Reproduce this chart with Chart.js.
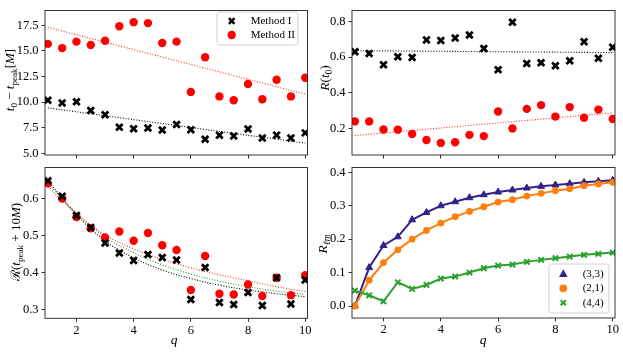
<!DOCTYPE html>
<html><head><meta charset="utf-8">
<script src="https://cdn.jsdelivr.net/npm/chart.js@4.4.1/dist/chart.umd.min.js"></script>
<style>
html,body{margin:0;padding:0;background:#fff;overflow:hidden;}
#wrap{position:relative;width:623px;height:352px;}
canvas{position:absolute;left:0;top:0;}
</style></head><body>
<div id="wrap">
<canvas id="c1" width="623" height="352"></canvas>
<canvas id="c2" width="623" height="352"></canvas>
<canvas id="c3" width="623" height="352"></canvas>
<canvas id="c4" width="623" height="352"></canvas>
</div>
<script>
// ---------------- data ----------------
const Q = [1, 1.5, 2, 2.5, 3, 3.5, 4, 4.5, 5, 5.5, 6, 6.5, 7, 7.5, 8, 8.5, 9, 9.5, 10];
const X_TICKS = [2, 4, 6, 8, 10];

// top-left: t0 - tpeak
const T0_METHOD_I  = [10.19, 9.91, 10.03, 9.19, 8.78, 7.56, 7.41, 7.47, 7.28, 7.81, 7.31, 6.38, 6.78, 6.69, 7.38, 6.50, 6.78, 6.50, 7.00];
const T0_METHOD_II = [15.69, 15.28, 15.91, 15.59, 16.00, 17.41, 17.81, 17.72, 15.78, 15.91, 11.00, 14.38, 10.56, 10.19, 11.78, 10.28, 12.19, 10.56, 12.38];
const FIT_Q = [1, 10];
const T0_FIT_I  = [9.44, 6.00];
const T0_FIT_II = [17.31, 10.78];
const T0_TICKS = [5.0, 7.5, 10.0, 12.5, 15.0, 17.5];

// top-right: R(t0)
const RT0_METHOD_I  = [0.630, 0.620, 0.557, 0.602, 0.598, 0.696, 0.693, 0.707, 0.723, 0.648, 0.529, 0.795, 0.564, 0.568, 0.552, 0.580, 0.686, 0.593, 0.655];
const RT0_METHOD_II = [0.241, 0.241, 0.196, 0.195, 0.171, 0.137, 0.121, 0.125, 0.166, 0.159, 0.296, 0.202, 0.311, 0.332, 0.268, 0.321, 0.262, 0.307, 0.255];
const RT0_FIT_I  = [0.636, 0.625];
const RT0_FIT_II = [0.162, 0.289];
const RT0_TICKS = [0.2, 0.4, 0.6, 0.8];

// bottom-left: R(tpeak + 10M)
const R10_METHOD_I  = [0.649, 0.607, 0.555, 0.523, 0.481, 0.454, 0.434, 0.450, 0.442, 0.435, 0.328, 0.415, 0.320, 0.315, 0.347, 0.312, 0.387, 0.316, 0.381];
const R10_METHOD_II = [0.642, 0.601, 0.551, 0.521, 0.496, 0.512, 0.487, 0.508, 0.475, 0.462, 0.354, 0.446, 0.344, 0.342, 0.369, 0.338, 0.387, 0.340, 0.394];
const FIT_Q_CURVE = [1, 2, 3, 4, 5, 6, 7, 8, 9, 10];
const R10_FIT_I   = [0.649, 0.558, 0.487, 0.441, 0.408, 0.385, 0.367, 0.354, 0.344, 0.336];
const R10_FIT_II  = [0.634, 0.560, 0.503, 0.465, 0.437, 0.414, 0.395, 0.379, 0.363, 0.350];
const R10_FIT_ALL = [0.643, 0.562, 0.497, 0.455, 0.422, 0.397, 0.378, 0.363, 0.351, 0.342];
const R10_TICKS = [0.3, 0.4, 0.5, 0.6];

// bottom-right: R_lm
const RLM_33 = [0.000, 0.115, 0.181, 0.207, 0.258, 0.280, 0.300, 0.312, 0.324, 0.333, 0.341, 0.347, 0.353, 0.358, 0.362, 0.366, 0.370, 0.373, 0.376];
const RLM_21 = [0.000, 0.077, 0.130, 0.168, 0.200, 0.226, 0.248, 0.267, 0.283, 0.297, 0.311, 0.318, 0.329, 0.337, 0.345, 0.351, 0.360, 0.365, 0.370];
const RLM_44 = [0.046, 0.032, 0.014, 0.071, 0.051, 0.063, 0.082, 0.088, 0.100, 0.113, 0.121, 0.124, 0.132, 0.138, 0.143, 0.148, 0.153, 0.156, 0.160];
const RLM_TICKS = [0.0, 0.1, 0.2, 0.3, 0.4];
const RLM_LABELS = ['(3,3)', '(2,1)', '(4,4)'];
const METHOD_LABELS = ['Method I', 'Method II'];

// ---------------- helpers ----------------
const FONT = "'Liberation Serif', 'DejaVu Serif', serif";
const RED = '#ff0000', PURPLE = '#332288', ORANGE = '#ff7f0e', GREEN = '#2ca02c';
const TICK_SIZE = 12.5;
Chart.defaults.font.family = FONT;
Chart.defaults.font.size = TICK_SIZE;
Chart.defaults.color = '#000';

const pts = (xs, ys) => xs.map((x, i) => ({x: x, y: ys[i]}));

function marker(ctx, style, x, y, r, color, lw) {
  ctx.save();
  ctx.fillStyle = color; ctx.strokeStyle = color; ctx.lineWidth = lw || 1;
  ctx.beginPath();
  if (style === 'circle') { ctx.arc(x, y, r, 0, Math.PI * 2); ctx.fill(); }
  else if (style === 'cross') {
    ctx.moveTo(x - r, y - r); ctx.lineTo(x + r, y + r);
    ctx.moveTo(x + r, y - r); ctx.lineTo(x - r, y + r); ctx.stroke();
  } else if (style === 'triangle') {
    ctx.moveTo(x, y - r); ctx.lineTo(x + r * 0.95, y + r * 0.7); ctx.lineTo(x - r * 0.95, y + r * 0.7);
    ctx.closePath(); ctx.fill();
  }
  ctx.restore();
}

function drawRich(ctx, segs, cx, cy, rot, size) {
  ctx.save();
  ctx.translate(cx, cy);
  if (rot) ctx.rotate(-Math.PI / 2);
  const parts = segs.map(s => {
    const fs = s.sub ? size * 0.7 : size;
    const font = (s.it ? 'italic ' : '') + fs + 'px ' + FONT;
    ctx.font = font;
    return {t: s.t, font: font, w: ctx.measureText(s.t).width, dy: s.sub ? size * 0.22 : 0};
  });
  const total = parts.reduce((a, p) => a + p.w, 0);
  let x = -total / 2;
  ctx.textBaseline = 'alphabetic';
  ctx.fillStyle = '#000';
  const base = size * 0.33;
  parts.forEach(p => { ctx.font = p.font; ctx.fillText(p.t, x, base + p.dy); x += p.w; });
  ctx.restore();
}

function legendBox(ctx, x0, y0, x1, y1) {
  ctx.save();
  const r = 2.5;
  ctx.beginPath();
  ctx.moveTo(x0 + r, y0); ctx.lineTo(x1 - r, y0); ctx.arcTo(x1, y0, x1, y0 + r, r);
  ctx.lineTo(x1, y1 - r); ctx.arcTo(x1, y1, x1 - r, y1, r);
  ctx.lineTo(x0 + r, y1); ctx.arcTo(x0, y1, x0, y1 - r, r);
  ctx.lineTo(x0, y0 + r); ctx.arcTo(x0, y0, x0 + r, y0, r);
  ctx.closePath();
  ctx.fillStyle = 'rgba(255,255,255,0.85)'; ctx.fill();
  ctx.strokeStyle = '#d0d0d0'; ctx.lineWidth = 1; ctx.stroke();
  ctx.restore();
}

function makeChart(id, o) {
  const W = 40, H = 20;
  const extra = {
    id: 'extra_' + id,
    afterDatasetsDraw(chart) {
      const ctx = chart.ctx, a = chart.chartArea;
      ctx.save();
      ctx.strokeStyle = '#222'; ctx.lineWidth = 0.9;
      ctx.strokeRect(a.left, a.top, a.right - a.left, a.bottom - a.top);
      ctx.restore();
    },
    afterDraw(chart) {
      const ctx = chart.ctx;
      if (o.ytitle) drawRich(ctx, o.ytitle.segs, o.ytitle.x, o.ytitle.y, true, o.ytitle.size || 13.5);
      if (o.xtitle) drawRich(ctx, o.xtitle.segs, o.xtitle.x, o.xtitle.y, false, o.xtitle.size || 13.5);
      if (o.legend) o.legend(ctx);
    }
  };
  return new Chart(document.getElementById(id), {
    type: 'scatter',
    data: {datasets: o.datasets},
    plugins: [extra],
    options: {
      responsive: false, animation: false, devicePixelRatio: 1, events: [],
      layout: {padding: {left: o.area.l - W, top: o.area.t, right: 623 - o.area.r, bottom: 352 - o.area.b - H}},
      plugins: {legend: {display: false}, tooltip: {enabled: false}},
      scales: {
        x: {
          type: 'linear', min: 0.9, max: 10.08,
          afterFit: s => { s.height = H; },
          afterBuildTicks: s => { s.ticks = X_TICKS.map(v => ({value: v})); },
          grid: {drawOnChartArea: false, drawTicks: true, tickLength: 3.5, color: '#000', lineWidth: 0.8},
          border: {display: false},
          ticks: {display: o.showX, autoSkip: false, maxRotation: 0, padding: 1, font: {size: TICK_SIZE}, callback: v => String(v)}
        },
        y: {
          type: 'linear', min: o.ymin, max: o.ymax, position: 'left',
          afterFit: s => { s.width = W; },
          afterBuildTicks: s => { s.ticks = o.yticks.map(v => ({value: v})); },
          grid: {drawOnChartArea: false, drawTicks: true, tickLength: 3.5, color: '#000', lineWidth: 0.8},
          border: {display: false},
          ticks: {autoSkip: false, padding: 3, font: {size: TICK_SIZE}, callback: v => v.toFixed(1)}
        }
      }
    }
  });
}

const crossDS = (label, data) => ({label: label, data: data, pointStyle: 'crossRot', pointRadius: 4.6, borderColor: '#000', backgroundColor: '#000', borderWidth: 2.8, showLine: false});
const circDS = (label, data) => ({label: label, data: data, pointStyle: 'circle', pointRadius: 4.2, backgroundColor: RED, borderColor: RED, borderWidth: 0, showLine: false});
const fitDS = (data, color) => ({data: data, showLine: true, pointRadius: 0, borderColor: color, borderWidth: 1.1, borderDash: [1, 1.7], fill: false, tension: 0.4});

function methodLegend(ctx) {
  legendBox(ctx, 217, 12, 298, 45);
  marker(ctx, 'cross', 231.7, 21, 2.8, '#000', 2.5);
  marker(ctx, 'circle', 231.7, 35, 4.2, RED);
  ctx.save(); ctx.font = '11px ' + FONT; ctx.fillStyle = '#000'; ctx.textBaseline = 'middle';
  ctx.fillText(METHOD_LABELS[0], 250.7, 21.5); ctx.fillText(METHOD_LABELS[1], 250.7, 35.5);
  ctx.restore();
}

// ---------------- top-left ----------------
makeChart('c1', {
  area: {l: 45, t: 4.5, r: 307.5, b: 155}, ymin: 4.84, ymax: 18.95, yticks: T0_TICKS, showX: false,
  datasets: [crossDS(METHOD_LABELS[0], pts(Q, T0_METHOD_I)), circDS(METHOD_LABELS[1], pts(Q, T0_METHOD_II)),
             fitDS(pts(FIT_Q, T0_FIT_I), '#000'), fitDS(pts(FIT_Q, T0_FIT_II), 'rgba(255,0,0,0.85)')],
  ytitle: {x: 9.5, y: 80, size: 13, segs: [{t: 't', it: 1}, {t: '0', sub: 1}, {t: ' − '}, {t: 't', it: 1}, {t: 'peak', sub: 1}, {t: '['}, {t: 'M', it: 1}, {t: ']'}]},
  legend: methodLegend
});

// ---------------- top-right ----------------
makeChart('c2', {
  area: {l: 352, t: 4.5, r: 615, b: 155}, ymin: 0.0536, ymax: 0.86, yticks: RT0_TICKS, showX: false,
  datasets: [crossDS(METHOD_LABELS[0], pts(Q, RT0_METHOD_I)), circDS(METHOD_LABELS[1], pts(Q, RT0_METHOD_II)),
             fitDS(pts(FIT_Q, RT0_FIT_I), '#000'), fitDS(pts(FIT_Q, RT0_FIT_II), 'rgba(255,0,0,0.85)')],
  ytitle: {x: 324.5, y: 78, segs: [{t: 'R', it: 1}, {t: '('}, {t: 't', it: 1}, {t: '0', sub: 1}, {t: ')'}]}
});

// ---------------- bottom-left ----------------
makeChart('c3', {
  area: {l: 45, t: 167.5, r: 307.5, b: 318.3}, ymin: 0.2775, ymax: 0.685, yticks: R10_TICKS, showX: true,
  datasets: [crossDS(METHOD_LABELS[0], pts(Q, R10_METHOD_I)), circDS(METHOD_LABELS[1], pts(Q, R10_METHOD_II)),
             fitDS(pts(FIT_Q_CURVE, R10_FIT_I), '#000'), fitDS(pts(FIT_Q_CURVE, R10_FIT_ALL), GREEN),
             fitDS(pts(FIT_Q_CURVE, R10_FIT_II), 'rgba(255,0,0,0.85)')],
  ytitle: {x: 16, y: 242, size: 13, segs: [{t: 'ℛ'}, {t: '('}, {t: 't', it: 1}, {t: 'peak', sub: 1}, {t: ' + 10'}, {t: 'M', it: 1}, {t: ')'}]},
  xtitle: {x: 174, y: 340, segs: [{t: 'q', it: 1}]}
});

// ---------------- bottom-right ----------------
const lineDS = (label, data, color, style, r, bw) => ({label: label, data: data, showLine: true, borderColor: color, backgroundColor: color,
  borderWidth: 2, pointStyle: style, pointRadius: r, pointBackgroundColor: color, pointBorderColor: color, pointBorderWidth: bw, tension: 0});
makeChart('c4', {
  area: {l: 352, t: 167.5, r: 615, b: 318}, ymin: -0.0359, ymax: 0.4144, yticks: RLM_TICKS, showX: true,
  datasets: [lineDS(RLM_LABELS[2], pts(Q, RLM_44), GREEN, 'crossRot', 3.8, 2),
             lineDS(RLM_LABELS[1], pts(Q, RLM_21), ORANGE, 'circle', 3.4, 0),
             lineDS(RLM_LABELS[0], pts(Q, RLM_33), PURPLE, 'triangle', 4.0, 1)],
  ytitle: {x: 323, y: 244, segs: [{t: 'R', it: 1}, {t: 'ℓm', sub: 1, it: 1}]},
  xtitle: {x: 483, y: 340, segs: [{t: 'q', it: 1}]},
  legend: ctx => {
    legendBox(ctx, 549, 264, 609, 313);
    marker(ctx, 'triangle', 563.3, 273.8, 4.5, PURPLE);
    marker(ctx, 'circle', 563.3, 288.3, 3.9, ORANGE);
    marker(ctx, 'cross', 563.3, 302.7, 2.6, GREEN, 2);
    ctx.save(); ctx.font = '11px ' + FONT; ctx.fillStyle = '#000'; ctx.textBaseline = 'middle';
    ctx.fillText(RLM_LABELS[0], 582.7, 273.8); ctx.fillText(RLM_LABELS[1], 582.7, 288.6); ctx.fillText(RLM_LABELS[2], 582.7, 303);
    ctx.restore();
  }
});
</script>
</body></html>
